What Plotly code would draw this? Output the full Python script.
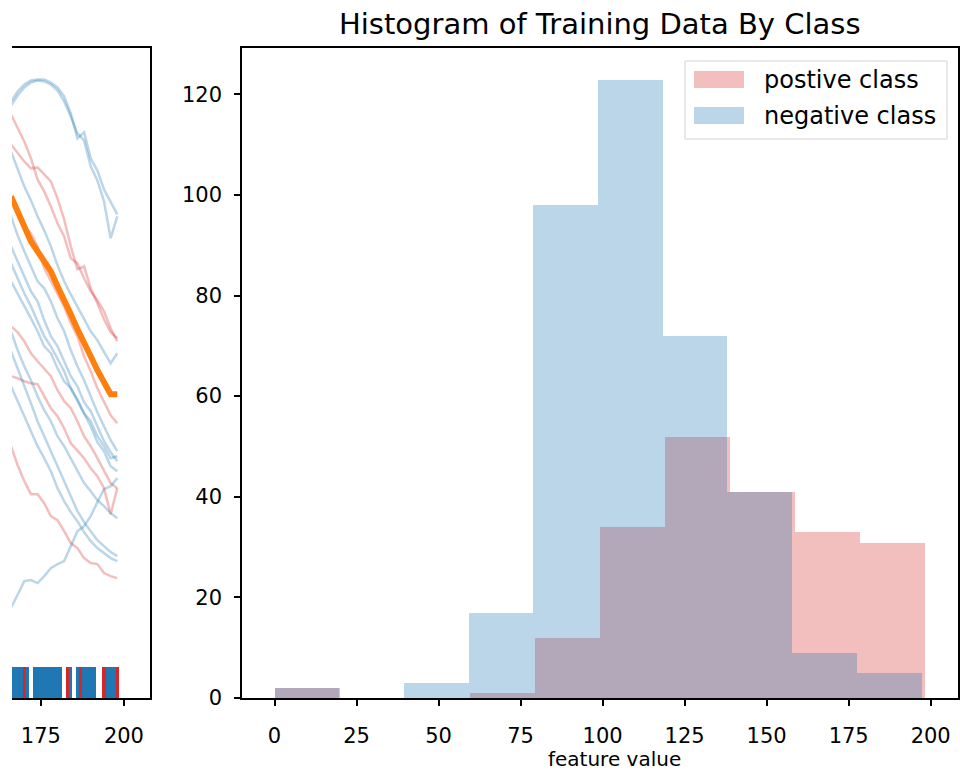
import plotly.graph_objects as go

# ---------------- data ----------------
# histogram (right panel)
pos_bin_edges = [0.0, 19.84, 39.68, 59.52, 79.36, 99.2, 119.04, 138.88, 158.72, 178.56, 198.4]
pos_counts = [2, 0, 0, 1, 12, 34, 52, 41, 33, 31]
neg_bin_edges = [0.0, 19.72, 39.44, 59.16, 78.88, 98.6, 118.32, 138.04, 157.76, 177.48, 197.2]
neg_counts = [2, 0, 3, 17, 98, 123, 72, 41, 9, 5]
hist_xticks = [0, 25, 50, 75, 100, 125, 150, 175, 200]
hist_yticks = [0, 20, 40, 60, 80, 100, 120]

# series (left panel, partial view: x from 166 to 198)
series_x = [166, 168, 170, 172, 174, 176, 178, 180, 182, 184, 186, 188, 190, 192, 194, 196, 198]

neg_series = [
    [597, 607, 614, 618, 619, 619, 616, 611, 602, 585, 560, 566, 540, 528, 509, 497, 484],
    [593, 603, 611, 616, 618, 617, 614, 608, 597, 582, 565, 558, 532, 518, 497, 460, 482],
    [547, 530, 512, 498, 482, 468, 452, 433, 417, 404, 392, 380, 367, 358, 347, 335, 345],
    [482, 463, 447, 432, 417, 410, 397, 380, 367, 348, 332, 318, 302, 286, 272, 258, 247],
    [452, 437, 422, 407, 397, 378, 362, 352, 337, 322, 312, 296, 287, 272, 257, 246, 237],
    [435, 420, 405, 392, 377, 362, 352, 340, 327, 310, 297, 285, 272, 256, 247, 232, 227],
    [417, 405, 392, 380, 367, 352, 345, 330, 317, 310, 299, 285, 277, 262, 252, 240, 242],
    [367, 348, 332, 318, 302, 288, 277, 262, 252, 240, 227, 215, 207, 198, 192, 185, 180],
    [347, 330, 312, 295, 277, 262, 247, 232, 217, 202, 187, 176, 167, 158, 152, 146, 142],
    [312, 297, 282, 268, 252, 240, 227, 210, 197, 186, 177, 166, 157, 150, 145, 140, 137],
    [90, 104, 117, 118, 115, 122, 130, 134, 137, 152, 167, 172, 182, 196, 209, 212, 220],
]
pos_series = [
    [584, 570, 557, 540, 519, 507, 492, 475, 462, 440, 435, 420, 407, 398, 387, 370, 357],
    [554, 545, 537, 530, 531, 524, 517, 500, 479, 452, 429, 432, 410, 395, 379, 366, 360],
    [497, 484, 472, 465, 452, 430, 417, 404, 392, 375, 362, 342, 327, 310, 297, 283, 275],
    [372, 366, 357, 345, 337, 330, 322, 308, 297, 290, 277, 262, 252, 240, 227, 215, 210],
    [252, 233, 217, 204, 204, 195, 182, 178, 167, 155, 150, 140, 135, 134, 125, 122, 120],
    [322, 320, 317, 315, 314, 302, 290, 282, 270, 255, 247, 240, 230, 222, 210, 184, 210],
]
highlight_y = [502, 487, 472, 457, 447, 437, 427, 412, 399, 384, 369, 354, 342, 328, 315, 304, 304]
left_xticks = [175, 200]

# label strip at bottom of left panel
rug_neg_x = [166, 167, 168, 169, 171, 173, 174, 175, 176, 177, 178, 179, 180, 181,
             184, 186, 188, 189, 190, 191, 195, 196, 197]
rug_pos_x = [170, 183, 187, 194, 198]
rug_height = 32

# ---------------- figure ----------------
W, H = 960, 783
REF_H = 771  # layout positions are expressed in fractions of this height
FONT = "DejaVu Sans"
RED_A = "rgba(214,39,40,0.3)"
BLUE_A = "rgba(31,119,180,0.3)"

fig = go.Figure()

for ys in pos_series:
    fig.add_trace(go.Scatter(x=series_x, y=ys, mode="lines", xaxis="x", yaxis="y",
                             line=dict(color="rgba(214,39,40,0.3)", width=2.5),
                             showlegend=False, hoverinfo="skip"))
for ys in neg_series:
    fig.add_trace(go.Scatter(x=series_x, y=ys, mode="lines", xaxis="x", yaxis="y",
                             line=dict(color="rgba(31,119,180,0.3)", width=2.5),
                             showlegend=False, hoverinfo="skip"))
fig.add_trace(go.Scatter(x=series_x, y=highlight_y, mode="lines", xaxis="x", yaxis="y",
                         line=dict(color="#ff7f0e", width=6),
                         showlegend=False, hoverinfo="skip"))
fig.add_trace(go.Bar(x=rug_neg_x, y=[rug_height] * len(rug_neg_x), width=1,
                     marker=dict(color="#1f77b4", line=dict(width=0)),
                     xaxis="x", yaxis="y", showlegend=False, hoverinfo="skip"))
fig.add_trace(go.Bar(x=rug_pos_x, y=[rug_height] * len(rug_pos_x), width=1,
                     marker=dict(color="#d62728", line=dict(width=0)),
                     xaxis="x", yaxis="y", showlegend=False, hoverinfo="skip"))


def centers(edges):
    return [(edges[i] + edges[i + 1]) / 2 for i in range(len(edges) - 1)]


def widths(edges):
    return [edges[i + 1] - edges[i] for i in range(len(edges) - 1)]


fig.add_trace(go.Bar(x=centers(pos_bin_edges), y=pos_counts, width=widths(pos_bin_edges),
                     marker=dict(color=RED_A, line=dict(width=0)),
                     xaxis="x2", yaxis="y2", name="postive class", showlegend=False))
fig.add_trace(go.Bar(x=centers(neg_bin_edges), y=neg_counts, width=widths(neg_bin_edges),
                     marker=dict(color=BLUE_A, line=dict(width=0)),
                     xaxis="x2", yaxis="y2", name="negative class", showlegend=False))


def px_x(p):
    return p / W


def px_y(p):
    return 1 - p / REF_H


axis_common = dict(showgrid=False, zeroline=False, linecolor="black", linewidth=1.5,
                   tickcolor="black", tickwidth=1.5, ticklen=6,
                   tickfont=dict(family=FONT, size=21, color="black"))

PLOT_TOP, PLOT_BOTTOM = 47.5, 698

fig.update_layout(
    width=W, height=H,
    margin=dict(l=0, r=0, t=0, b=0),
    paper_bgcolor="white", plot_bgcolor="white",
    barmode="overlay", bargap=0,
    font=dict(family=FONT, color="black"),
    xaxis=dict(domain=[px_x(12), px_x(150)], range=[166.3, 207.85], anchor="y",
               showline=True, mirror=True, ticks="outside", ticklabelstandoff=12,
               tickvals=left_xticks, ticktext=[str(v) for v in left_xticks], **axis_common),
    yaxis=dict(domain=[px_y(PLOT_BOTTOM), px_y(PLOT_TOP)], range=[0, 651], anchor="x",
               side="right", showline=True, showticklabels=False, ticks="",
               showgrid=False, zeroline=False, linecolor="black", linewidth=1.5),
    xaxis2=dict(domain=[px_x(242), px_x(958)], range=[-9.92, 208.32], anchor="y2",
                showline=True, mirror=True, ticks="outside", ticklabelstandoff=12,
                tickvals=hist_xticks, ticktext=[str(v) for v in hist_xticks], **axis_common),
    yaxis2=dict(domain=[px_y(PLOT_BOTTOM), px_y(PLOT_TOP)], range=[0, 129.3], anchor="x2",
                showline=True, mirror=True, ticks="outside", ticklabelstandoff=8,
                tickvals=hist_yticks, ticktext=[str(v) for v in hist_yticks], **axis_common),
)

fig.add_annotation(text="Histogram of Training Data By Class", xref="paper", yref="paper",
                   x=px_x(600), y=px_y(24), xanchor="center", yanchor="middle",
                   showarrow=False, font=dict(family=FONT, size=29, color="black"))
fig.add_annotation(text="feature value", xref="paper", yref="paper",
                   x=px_x(614), y=px_y(759), xanchor="center", yanchor="middle",
                   showarrow=False, font=dict(family=FONT, size=20, color="black"))

# legend drawn manually to match the patch style
fig.add_shape(type="rect", xref="paper", yref="paper",
              x0=px_x(685), x1=px_x(947), y0=px_y(139), y1=px_y(61),
              line=dict(color="rgb(210,210,210)", width=1), fillcolor="rgba(255,255,255,0.8)",
              layer="above")
fig.add_shape(type="rect", xref="paper", yref="paper",
              x0=px_x(694), x1=px_x(744), y0=px_y(88), y1=px_y(71),
              line=dict(width=0), fillcolor=RED_A, layer="above")
fig.add_shape(type="rect", xref="paper", yref="paper",
              x0=px_x(694), x1=px_x(744), y0=px_y(124), y1=px_y(107),
              line=dict(width=0), fillcolor=BLUE_A, layer="above")
fig.add_annotation(text="postive class", xref="paper", yref="paper",
                   x=px_x(762), y=px_y(80), xanchor="left", yanchor="middle",
                   showarrow=False, font=dict(family=FONT, size=24, color="black"))
fig.add_annotation(text="negative class", xref="paper", yref="paper",
                   x=px_x(762), y=px_y(116), xanchor="left", yanchor="middle",
                   showarrow=False, font=dict(family=FONT, size=24, color="black"))

fig.write_html(
    "out.html",
    config={"displayModeBar": False, "responsive": False},
    post_script="document.documentElement.style.overflow='hidden';"
                "document.body.style.margin='0';document.body.style.overflow='hidden';",
)
